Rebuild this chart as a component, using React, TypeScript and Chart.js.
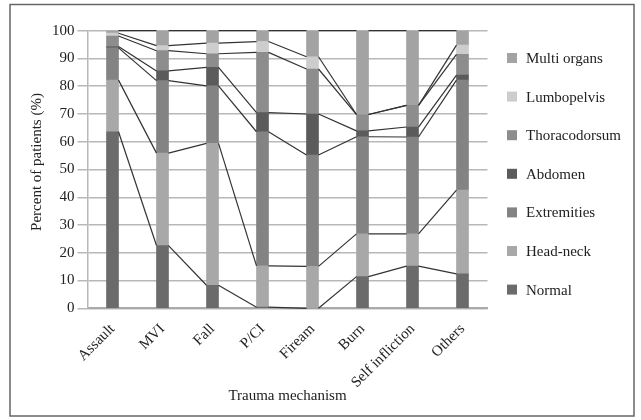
import React, { useEffect, useRef } from "react";
import { Chart, registerables } from "chart.js";

Chart.register(...registerables);

const categories = ["Assault", "MVI", "Fall", "P/CI", "Fiream", "Burn", "Self infliction", "Others"];

const normal = [63.6, 22.6, 8.3, 0.4, 0, 11.4, 15.2, 12.4];
const headNeck = [18.6, 33.3, 51.1, 14.9, 15.1, 15.4, 11.6, 30.2];
const extremities = [11.6, 26.1, 20.7, 48.3, 40.1, 35.0, 34.9, 39.6];
const abdomen = [0.5, 3.5, 6.7, 6.9, 14.8, 2.1, 3.6, 1.8];
const thoracodorsum = [3.8, 7.3, 4.9, 21.7, 16.2, 5.9, 7.8, 7.5];
const lumbopelvis = [1.0, 1.8, 3.8, 3.9, 4.4, 0, 0, 3.3];
const multiOrgans = [0.9, 5.4, 4.5, 3.9, 9.4, 30.2, 26.9, 5.2];

const yTicks = [0, 10, 20, 30, 40, 50, 60, 70, 80, 90, 100];
const yTitle = "Percent of patients (%)";
const xTitle = "Trauma mechanism";

const FONT = "'Liberation Serif', 'Times New Roman', serif";

const seriesLines = {
  id: "seriesLines",
  afterDatasetsDraw(chart: any) {
    const ctx = chart.ctx;
    ctx.save();
    ctx.strokeStyle = "#333333";
    ctx.lineWidth = 1.2;
    chart.data.datasets.forEach((_d: any, di: number) => {
      const meta = chart.getDatasetMeta(di);
      const els = meta.data;
      for (let i = 0; i < els.length - 1; i++) {
        const a = els[i];
        const b = els[i + 1];
        ctx.beginPath();
        ctx.moveTo(a.x + a.width / 2, a.y);
        ctx.lineTo(b.x - b.width / 2, b.y);
        ctx.stroke();
      }
    });
    ctx.restore();
  },
};

const customLegend = {
  id: "customLegend",
  afterDraw(chart: any) {
    const ctx = chart.ctx;
    ctx.save();
    const ds = chart.data.datasets.slice().reverse();
    ctx.font = `15px ${FONT}`;
    ctx.textBaseline = "middle";
    ctx.textAlign = "left";
    ds.forEach((d: any, i: number) => {
      const y = 58 + i * 38.6;
      ctx.fillStyle = d.backgroundColor;
      ctx.fillRect(507, y - 5, 10, 10);
      ctx.fillStyle = "#222222";
      ctx.fillText(d.label, 526, y + 1);
    });
    // y-axis title
    ctx.translate(36.7, 162);
    ctx.rotate(-Math.PI / 2);
    ctx.textAlign = "center";
    ctx.fillText(yTitle, 0, 0);
    ctx.restore();
  },
};

const frame = {
  id: "frame",
  beforeDraw(chart: any) {
    const ctx = chart.ctx;
    ctx.save();
    ctx.fillStyle = "#ffffff";
    ctx.fillRect(0, 0, chart.width, chart.height);
    ctx.strokeStyle = "#666666";
    ctx.lineWidth = 1.5;
    ctx.strokeRect(10, 4.5, 624, 411.5);
    ctx.restore();
  },
};

export default function App() {
  const ref = useRef<HTMLCanvasElement>(null);

  useEffect(() => {
    if (!ref.current) return;
    const chart = new Chart(ref.current, {
      type: "bar",
      data: {
        labels: categories,
        datasets: [
          { label: "Normal", data: normal, backgroundColor: "#6b6b6b" },
          { label: "Head-neck", data: headNeck, backgroundColor: "#a8a8a8" },
          { label: "Extremities", data: extremities, backgroundColor: "#838383" },
          { label: "Abdomen", data: abdomen, backgroundColor: "#5b5b5b" },
          { label: "Thoracodorsum", data: thoracodorsum, backgroundColor: "#8d8d8d" },
          { label: "Lumbopelvis", data: lumbopelvis, backgroundColor: "#cdcdcd" },
          { label: "Multi organs", data: multiOrgans, backgroundColor: "#a3a3a3" },
        ],
      },
      options: {
        animation: false,
        responsive: false,
        devicePixelRatio: 1,
        layout: { padding: { top: 30.7, right: 153.5, bottom: 0, left: 0 } },
        datasets: { bar: { barThickness: 12, borderWidth: 0 } },
        plugins: {
          legend: { display: false },
          tooltip: { enabled: false },
        },
        scales: {
          x: {
            stacked: true,
            grid: { display: false },
            border: { display: true, color: "#aaaaaa", width: 2 },
            ticks: {
              minRotation: 45,
              maxRotation: 45,
              padding: 4,
              color: "#222222",
              font: { family: FONT, size: 15 },
            },
            title: {
              display: true,
              text: xTitle,
              color: "#222222",
              font: { family: FONT, size: 15 },
              padding: { top: 0, bottom: 15 },
            },
            afterFit: (scale: any) => {
              scale.height = 111.7;
            },
          },
          y: {
            stacked: true,
            min: 0,
            max: 100,
            afterBuildTicks: (scale: any) => {
              scale.ticks = yTicks.map((v) => ({ value: v }));
            },
            grid: { color: "#b8b8b8", lineWidth: 1.5, tickLength: 10, drawTicks: true },
            border: { display: true, color: "#b8b8b8", width: 1.5 },
            ticks: {
              padding: 3,
              color: "#222222",
              font: { family: FONT, size: 15 },
            },
            title: { display: false },
            afterFit: (scale: any) => {
              scale.width = 87.5;
            },
          },
        },
      },
      plugins: [frame, seriesLines, customLegend],
    });
    return () => chart.destroy();
  }, []);

  return (
    <div style={{ position: "fixed", left: 0, top: 0, width: 641, height: 420 }}>
      <canvas ref={ref} width={641} height={420} style={{ width: 641, height: 420 }} />
    </div>
  );
}
